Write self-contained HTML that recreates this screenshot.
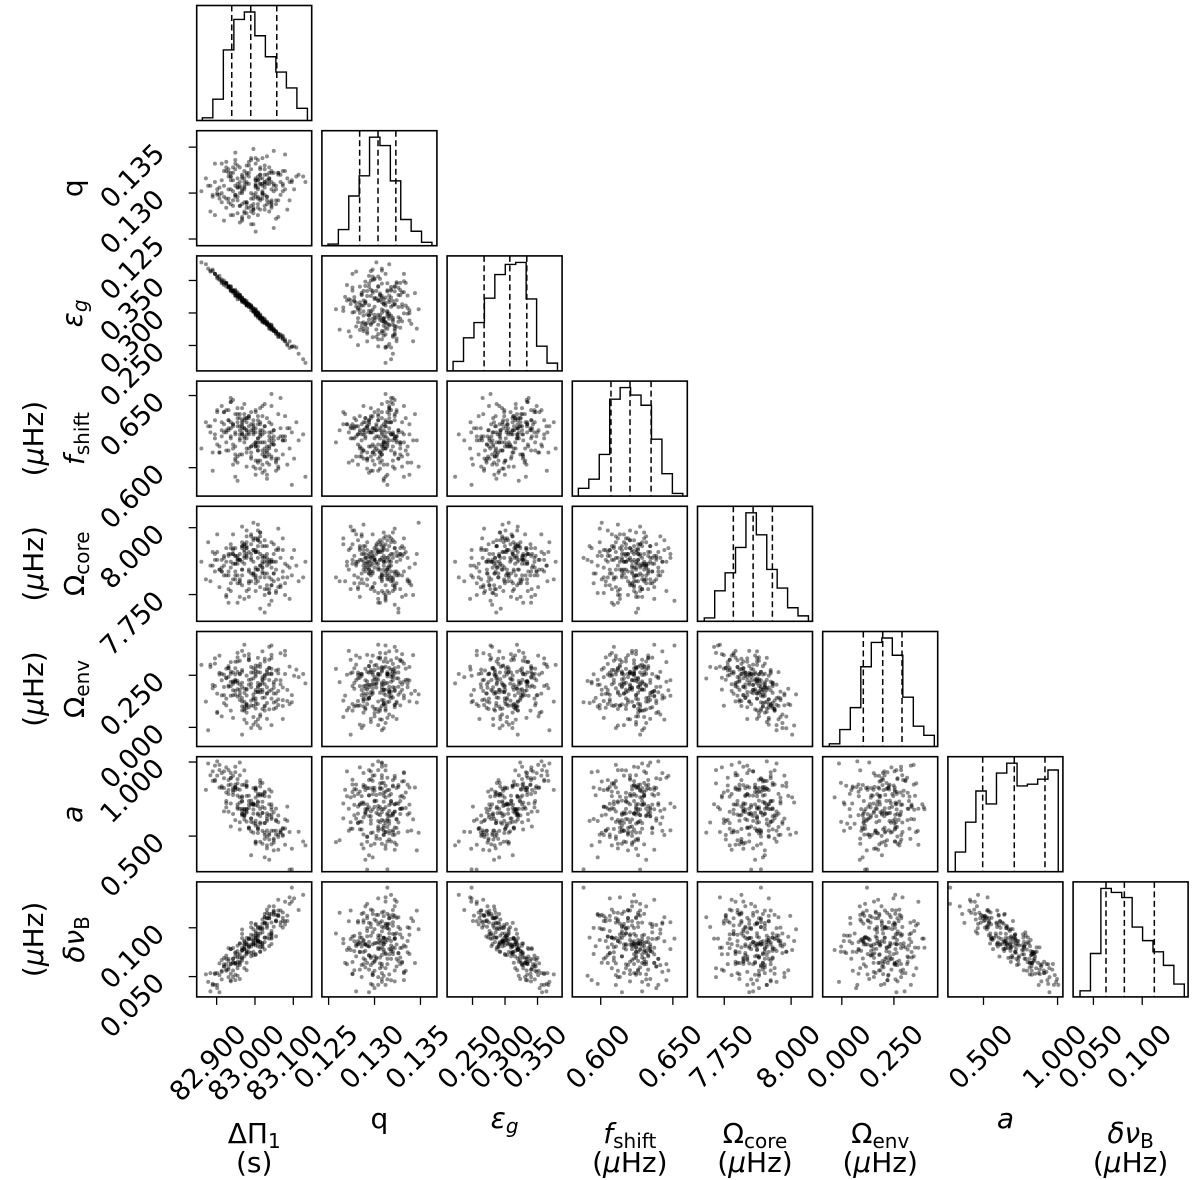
<!DOCTYPE html>
<html><head><meta charset="utf-8"><title>Corner plot</title>
<style>
html,body{margin:0;padding:0;background:#fff;}
svg{display:block;font-family:"DejaVu Sans","Liberation Sans",sans-serif;}
.lbl{font-size:28px;fill:#000;}
.tk{font-size:27px;fill:#000;}
</style></head>
<body>
<svg id="fig" width="1200" height="1180" viewBox="0 0 1200 1180" xmlns="http://www.w3.org/2000/svg">
<rect width="1200" height="1180" fill="#fff"/>
<g id="panels"></g>
<g id="ticklabels"></g>
<g>
<text class="lbl" x="254.2" y="1143" text-anchor="middle">ΔΠ<tspan font-size="20" dy="5">1</tspan></text>
<text class="lbl" x="254.2" y="1172" text-anchor="middle">(s)</text>
<text class="lbl" x="379.4" y="1128" text-anchor="middle">q</text>
<text class="lbl" x="504.6" y="1128" text-anchor="middle"><tspan font-style="italic">ε</tspan><tspan font-size="20" dy="5" font-style="italic">g</tspan></text>
<text class="lbl" x="629.8" y="1143" text-anchor="middle"><tspan font-style="italic">f</tspan><tspan font-size="20" dy="5">shift</tspan></text>
<text class="lbl" x="629.8" y="1172" text-anchor="middle">(<tspan font-style="italic">μ</tspan>Hz)</text>
<text class="lbl" x="755" y="1143" text-anchor="middle">Ω<tspan font-size="20" dy="5">core</tspan></text>
<text class="lbl" x="755" y="1172" text-anchor="middle">(<tspan font-style="italic">μ</tspan>Hz)</text>
<text class="lbl" x="880.2" y="1143" text-anchor="middle">Ω<tspan font-size="20" dy="5">env</tspan></text>
<text class="lbl" x="880.2" y="1172" text-anchor="middle">(<tspan font-style="italic">μ</tspan>Hz)</text>
<text class="lbl" x="1005.4" y="1128" text-anchor="middle" font-style="italic">a</text>
<text class="lbl" x="1130.6" y="1143" text-anchor="middle"><tspan font-style="italic">δν</tspan><tspan font-size="20" dy="5">B</tspan></text>
<text class="lbl" x="1130.6" y="1172" text-anchor="middle">(<tspan font-style="italic">μ</tspan>Hz)</text>
</g>
<g>
<g transform="translate(82,188.2) rotate(-90)"><text class="lbl" text-anchor="middle">q</text></g>
<g transform="translate(82,313.4) rotate(-90)"><text class="lbl" text-anchor="middle"><tspan font-style="italic">ε</tspan><tspan font-size="20" dy="5" font-style="italic">g</tspan></text></g>
<g transform="translate(84,438.6) rotate(-90)"><text class="lbl" text-anchor="middle"><tspan font-style="italic">f</tspan><tspan font-size="20" dy="5">shift</tspan></text></g>
<g transform="translate(43,438.6) rotate(-90)"><text class="lbl" text-anchor="middle">(<tspan font-style="italic">μ</tspan>Hz)</text></g>
<g transform="translate(84,563.8) rotate(-90)"><text class="lbl" text-anchor="middle">Ω<tspan font-size="20" dy="5">core</tspan></text></g>
<g transform="translate(43,563.8) rotate(-90)"><text class="lbl" text-anchor="middle">(<tspan font-style="italic">μ</tspan>Hz)</text></g>
<g transform="translate(84,689) rotate(-90)"><text class="lbl" text-anchor="middle">Ω<tspan font-size="20" dy="5">env</tspan></text></g>
<g transform="translate(43,689) rotate(-90)"><text class="lbl" text-anchor="middle">(<tspan font-style="italic">μ</tspan>Hz)</text></g>
<g transform="translate(82,814.2) rotate(-90)"><text class="lbl" text-anchor="middle" font-style="italic">a</text></g>
<g transform="translate(84,939.4) rotate(-90)"><text class="lbl" text-anchor="middle"><tspan font-style="italic">δν</tspan><tspan font-size="20" dy="5">B</tspan></text></g>
<g transform="translate(43,939.4) rotate(-90)"><text class="lbl" text-anchor="middle">(<tspan font-style="italic">μ</tspan>Hz)</text></g>
</g>
</svg>
<script>
const paramNames = ['dpi1','q','eps-g','f-shift','omega-core','omega-env','a','delta-nu-b'];
const rangeLo = [82.848,0.12427,0.2109,0.5803,7.650,-0.0917,0.2598,0.0292];
const rangeHi = [83.148,0.13679,0.3878,0.6600,8.080,0.460,1.036,0.147];
const histLo = [82.8627,0.12493,0.2201,0.5845,7.6754,-0.0600,0.3097,0.0363];
const histHi = [83.1368,0.13625,0.3807,0.6569,8.0647,0.4438,1.0047,0.1431];
const histDP = [8,63,208,298,320,250,188,143,96,36];
const histQ = [5,48,148,208,323,298,193,78,43,10];
const histEps = [28,98,143,215,285,315,321,213,73,23];
const histF = [23,50,123,286,320,298,268,168,66,8];
const histOc = [10,90,143,218,320,255,153,98,40,16];
const histOe = [8,50,115,236,308,321,270,146,60,33];
const histA = [58,146,238,200,291,320,253,258,273,300];
const histDnu = [18,128,320,308,293,206,166,133,93,38];
const q16 = [82.9394,0.12838,0.2678,0.6071,7.784,0.1031,0.4946,0.0629];
const q50 = [82.989,0.13038,0.3074,0.6203,7.858,0.1962,0.7078,0.0817];
const q84 = [83.0569,0.13232,0.3335,0.6349,7.930,0.2888,0.915,0.1124];
const tickVals = [[82.9,83.0,83.1],[0.125,0.130,0.135],[0.25,0.30,0.35],[0.60,0.65],[7.75,8.0],[0.0,0.25],[0.5,1.0],[0.05,0.10]];
const tickText = [['82.900','83.000','83.100'],['0.125','0.130','0.135'],['0.250','0.300','0.350'],['0.600','0.650'],['7.750','8.000'],['0.000','0.250'],['0.500','1.000'],['0.050','0.100']];
const zDP = [0.3,-1.1,0.8,-0.2,1.5,-0.7,0.1,-1.6,0.6,0.9,-0.4,0.2,-0.9,1.2,-0.1,0.5,-1.3,0.0,2.1,-0.6,
-0.3,0.7,-1.8,0.4,1.0,-0.5,0.2,-0.8,1.7,-0.2,0.6,-1.0,0.3,-0.4,1.3,-1.4,0.1,0.8,-0.7,0.4,
1.1,-0.3,-0.9,0.5,-2.0,0.2,0.9,-0.6,0.0,1.4,-1.2,0.7,-0.1,0.3,-0.8,1.8,-0.5,0.6,-1.5,0.2,
-0.2,0.4,1.0,-1.1,0.8,-0.3,-0.7,1.6,0.1,-0.9,0.5,-0.4,1.2,-1.7,0.3,0.0,-0.6,0.9,-0.2,2.3,
0.6,-1.3,0.2,-0.5,1.1,-0.8,0.4,-0.1,-1.0,0.7,1.4,-0.4,0.1,-1.9,0.8,-0.3,0.5,-0.7,1.0,-0.2,
-1.2,0.3,0.9,-0.6,0.2,1.7,-0.9,0.0,-0.4,0.6,-1.5,1.2,-0.1,0.4,-0.8,0.1,1.9,-1.1,0.5,-0.3,
0.7,-0.5,-1.4,0.3,1.3,-0.2,0.8,-0.7,0.0,-1.0,1.5,0.2,-0.6,0.9,-0.3,-2.2,0.4,1.1,-0.9,0.6,
-0.1,1.0,-0.4,0.5,-1.6,0.2,0.7,-0.8,1.4,-0.2,0.3,-1.2,0.9,-0.5,0.1,1.2,-0.7,0.6,-0.1,-1.3,
0.8,-0.4,1.6,-1.0,0.2,-0.6,0.5,0.0,-1.8,1.1,-0.3,0.4,-0.9,0.7,2.0,-0.5,0.3,-1.1,0.9,-0.2,
0.1,-0.7,1.3,-0.4,0.6,-1.4,0.2,0.8,-0.3,1.0,-0.8,0.5,-0.1,-1.5,0.4,1.8,-0.6,0.1,-1.0,0.7,
-0.2,0.9,-1.2,0.3,1.2,-0.5,0.0,-0.9,0.6,-0.3,1.5,-1.7,0.4,0.2,-0.6,0.8,-1.1,0.3,1.1,-0.4,
0.5,-0.8,0.1,1.4,-1.3,0.7,-0.2,0.3,-0.5,2.4,-1.0,0.6,-0.4,0.2,-1.6,0.9,0.0,-0.7,1.0,0.4];
const zQ = [-0.5,1.2,0.3,-0.8,0.0,1.6,-1.1,0.4,-0.3,0.9,-1.5,0.2,0.7,-0.6,1.3,-0.2,0.5,-1.9,0.8,0.1,
1.0,-0.4,-1.2,0.6,0.2,-0.9,1.7,-0.1,0.4,-0.7,0.3,1.1,-1.4,0.0,0.8,-0.3,-1.0,0.5,2.0,-0.6,
0.2,-1.3,0.9,-0.2,0.6,1.4,-0.8,0.1,-0.5,1.0,-1.7,0.3,0.7,-0.4,-0.9,0.4,1.2,-1.1,0.0,0.5,
-0.7,0.8,-0.1,1.5,-1.2,0.2,-0.4,0.6,2.2,-0.8,0.3,-1.6,0.9,-0.3,0.1,1.1,-0.6,0.4,-1.0,0.7,
1.3,-0.2,0.5,-0.9,0.0,-1.4,0.8,0.3,-0.5,1.8,-0.1,0.6,-1.1,0.2,0.9,-0.7,-0.3,1.4,-2.1,0.4,
-0.4,0.7,1.0,-1.3,0.2,-0.6,0.5,1.6,-0.8,0.1,-0.2,0.9,-1.5,0.3,1.2,-0.5,0.0,-1.0,0.6,0.4,
0.8,-1.8,0.1,0.5,-0.3,1.3,-0.7,0.2,-1.2,0.7,1.9,-0.4,0.3,-0.9,0.6,-0.1,1.1,-1.6,0.0,0.4,
-1.0,0.3,0.7,-0.5,1.4,-0.2,-0.8,0.9,0.2,-1.3,0.5,1.0,-0.6,0.1,-1.9,0.8,-0.3,0.4,1.5,-0.7,
0.6,-0.1,-1.1,0.9,0.3,-0.4,1.7,-0.9,0.2,-0.6,0.0,1.2,-1.4,0.5,0.7,-0.2,-0.8,1.0,-1.0,0.3,
-0.3,1.1,0.4,-1.7,0.8,-0.5,0.1,0.6,-1.2,2.1,-0.6,0.2,0.9,-0.3,-1.1,0.5,1.3,-0.8,0.0,-0.4,
0.9,-0.7,0.2,1.6,-1.5,0.4,-0.2,0.7,-0.9,0.1,1.0,-0.4,0.3,-2.3,0.6,1.2,-0.5,0.0,-0.8,0.8,
-0.1,0.5,-1.3,0.3,1.4,-0.6,0.8,-1.0,0.2,0.4,-0.7,1.1,-0.2,0.6,-1.4,0.0,1.7,-0.3,0.9,-0.5];
const zF = [0.7,-0.2,-1.3,0.4,1.1,-0.8,0.2,0.9,-1.6,0.0,0.5,-0.4,1.8,-1.0,0.3,-0.6,0.8,1.3,-0.1,-1.2,
0.1,-0.9,0.6,1.5,-0.3,0.2,-1.8,0.7,-0.5,1.0,-0.2,0.4,-1.1,0.9,2.0,-0.7,0.3,-0.4,1.2,-1.5,
-0.6,0.5,0.0,-1.3,0.8,-0.2,1.6,-0.9,0.4,-0.1,0.7,-2.0,0.2,1.1,-0.5,0.3,-0.8,0.6,1.4,-0.3,
1.0,-1.1,0.4,-0.6,0.1,1.7,-0.4,0.5,-1.4,0.8,-0.2,0.3,1.2,-0.7,0.0,-1.0,0.6,2.2,-0.5,0.2,
-0.9,0.4,1.3,-0.1,-1.6,0.7,0.3,-0.5,0.9,-1.2,0.1,1.5,-0.3,0.6,-0.8,0.0,1.1,-1.9,0.4,0.8,
0.3,-0.6,-0.2,1.0,-1.1,0.5,1.8,-0.4,0.2,-0.7,1.3,-1.5,0.6,0.1,-0.3,0.9,-1.0,0.4,1.6,-0.2,
-0.4,1.2,-0.7,0.0,0.5,-1.4,0.8,0.2,-0.9,1.4,-0.1,0.3,-2.1,0.7,1.0,-0.5,0.4,-1.2,0.1,0.6,
1.1,-0.3,0.8,-1.7,0.2,0.5,-0.6,1.9,-0.8,0.0,-0.2,1.3,-1.0,0.4,0.7,-1.4,0.3,-0.5,1.0,0.1,
-0.1,0.6,-1.3,0.9,-0.4,1.5,0.2,-0.7,0.3,-1.1,1.2,-0.2,0.5,-1.8,0.8,0.0,-0.6,1.4,-0.9,0.4,
0.5,-1.0,0.1,0.7,1.7,-0.4,-1.5,0.3,0.9,-0.1,0.6,-0.8,1.1,-0.3,0.2,-2.3,0.8,0.4,-0.6,1.0,
-0.7,0.3,1.3,-1.2,0.0,0.6,-0.4,2.0,-0.9,0.5,0.1,-1.6,0.7,-0.2,1.2,-0.5,0.3,0.9,-1.0,0.2,
0.4,-1.3,0.6,-0.1,1.6,-0.7,0.2,-0.4,1.0,-1.9,0.5,0.3,-0.8,1.4,0.0,-0.3,0.7,-1.1,0.1,0.8];
const zOc = [-0.2,0.9,-1.4,0.6,0.1,-0.7,1.3,-0.3,0.5,-1.0,2.0,-0.5,0.2,0.8,-1.6,0.4,-0.1,1.1,-0.8,0.3,
0.7,-1.2,0.0,1.5,-0.4,0.3,-0.9,0.6,-1.7,1.0,0.2,-0.5,1.8,-0.2,0.4,-1.1,0.8,-0.6,0.1,1.2,
-1.3,0.5,0.9,-0.1,-0.7,1.4,0.2,-1.9,0.6,-0.3,0.0,1.0,-0.8,0.4,1.6,-0.5,0.3,-1.2,0.7,-0.2,
0.4,-0.6,1.1,-1.5,0.2,0.8,-0.3,0.0,2.2,-0.9,0.5,-0.2,-1.1,0.7,1.3,-0.4,0.1,-1.8,0.9,-0.6,
1.0,0.3,-0.7,0.6,-1.4,0.1,1.7,-0.2,0.5,-1.0,0.8,-0.5,0.2,1.2,-2.0,0.4,-0.3,0.9,-0.8,1.5,
-0.5,1.4,0.2,-0.9,0.7,-0.1,-1.3,0.4,1.0,-0.6,0.3,1.9,-1.2,0.0,0.6,-0.4,0.8,-1.6,0.2,1.1,
0.6,-0.8,-0.2,1.3,-1.1,0.5,0.1,-0.5,1.6,-0.3,-1.5,0.7,0.3,-0.7,1.0,0.2,-2.2,0.8,-0.1,0.4,
-0.9,0.2,1.2,-0.4,0.6,-1.3,0.0,0.9,-0.6,1.8,-0.2,0.5,-1.0,0.3,1.4,-0.7,0.1,-1.5,0.7,-0.3,
0.3,1.0,-0.6,-1.2,0.8,0.4,-0.1,1.5,-0.8,0.2,-1.7,0.6,1.1,-0.4,0.0,-0.9,2.1,-0.5,0.3,0.9,
-0.4,0.5,-1.0,0.2,1.3,-0.2,0.7,-1.4,0.1,0.6,-0.7,1.0,-0.3,1.6,-1.1,0.4,-0.5,0.8,-1.9,0.2,
1.2,-0.1,0.4,-0.8,0.9,-1.6,0.3,0.6,-0.4,1.1,-0.9,0.0,1.7,-0.6,0.5,-1.2,0.2,0.7,-0.2,-1.0,
0.1,0.8,-0.5,1.4,-0.3,0.4,-1.3,1.0,-0.7,0.2,0.6,-2.4,0.9,-0.1,0.3,1.2,-0.8,0.5,-0.4,0.0];
const zN2 = [1.1,-0.6,0.3,-1.2,0.8,0.0,-0.4,1.5,-0.9,0.2,-1.7,0.6,0.4,-0.3,1.0,-1.1,0.7,-0.2,0.1,1.9,
-0.5,0.3,1.3,-0.8,-0.1,0.9,-1.4,0.5,0.2,-0.7,1.6,-0.3,0.0,-1.0,0.6,1.2,-1.8,0.4,-0.2,0.8,
0.2,-0.9,1.4,0.5,-1.3,0.1,-0.6,0.9,0.3,-2.1,0.7,-0.4,1.1,-0.1,0.4,-0.8,1.7,0.0,-1.1,0.6,
-0.3,1.0,-0.7,0.2,0.5,-1.5,1.3,-0.2,0.8,-0.5,0.1,2.0,-0.9,0.3,-1.2,0.6,-0.1,1.4,-0.6,0.4,
0.7,-1.6,0.2,1.1,-0.4,0.9,-0.8,0.0,1.5,-1.0,0.4,-0.3,0.6,-1.9,1.2,0.1,-0.5,0.8,-0.2,-1.3,
-0.8,0.5,1.8,-0.3,0.2,-1.1,0.7,0.4,-0.6,1.3,-1.4,0.0,0.9,-0.2,0.6,-0.9,1.1,-0.4,2.2,-0.7,
0.3,-1.0,0.6,1.6,-0.5,0.1,-1.3,0.8,-0.2,0.4,1.0,-1.7,0.5,-0.6,0.2,1.4,-0.1,-0.8,0.7,-1.2,
1.2,-0.3,0.0,-0.9,1.7,0.5,-0.4,0.3,-1.5,0.9,0.1,-0.7,1.3,-0.2,-1.0,0.6,0.4,-2.0,0.8,0.2,
-0.1,0.8,-1.2,0.4,-0.6,1.1,0.3,-1.6,0.7,-0.3,1.5,0.0,-0.8,0.5,1.0,-0.4,-1.1,0.2,0.9,-0.5,
0.6,-0.2,1.4,-1.3,0.1,0.7,-0.9,0.3,1.9,-0.6,-0.1,0.8,-1.4,0.5,0.2,-0.7,1.2,-0.3,0.0,-1.8,
-0.4,1.0,0.2,-0.5,1.3,-1.1,0.6,-0.2,0.4,-0.8,1.6,0.1,-1.5,0.7,-0.3,0.9,-0.6,2.1,-1.0,0.3,
0.5,-1.4,0.8,0.0,-0.7,1.1,-0.1,0.6,-1.2,0.3,0.4,-0.9,1.5,-0.4,0.2,-1.6,0.7,1.0,-0.3,0.1];
const zN3 = [-0.8,0.4,1.0,-0.3,-1.2,0.7,0.1,-0.5,1.6,-0.9,0.3,0.8,-1.5,0.2,-0.1,1.3,-0.6,0.5,-1.1,0.0,
0.6,1.8,-0.7,0.2,-0.4,1.1,-1.3,0.3,0.9,-0.2,-1.7,0.5,0.1,1.4,-0.6,0.0,-0.9,1.2,-0.3,0.7,
-0.1,0.9,-1.6,0.4,1.3,-0.5,0.2,-1.0,2.0,-0.4,0.6,-0.8,0.1,1.0,-1.4,0.3,-0.2,0.8,-0.7,1.5,
0.4,-1.1,0.7,-0.2,-1.8,0.9,0.3,-0.6,1.2,0.0,-1.0,0.5,1.7,-0.3,0.2,-0.8,1.1,-1.3,0.6,-0.1,
-0.6,0.2,1.4,-0.9,0.5,0.0,-1.5,0.8,-0.3,1.0,-0.7,2.2,-0.2,0.4,-1.1,0.6,0.1,-1.9,0.9,-0.4,
1.2,-0.3,-0.8,0.6,-1.4,0.3,0.0,1.6,-0.5,0.8,-1.0,0.2,0.7,-0.6,1.3,-1.2,0.4,-0.1,0.9,-1.6,
0.3,-0.7,1.1,-0.2,0.5,-1.3,1.9,-0.4,0.0,0.7,-0.9,0.4,-1.7,1.0,0.2,-0.5,0.8,-0.1,1.4,-1.0,
-0.5,1.0,0.2,-1.2,0.6,-0.3,1.5,-0.8,0.1,-2.0,0.9,0.4,-0.6,1.1,-0.1,0.3,-1.4,0.7,0.0,1.2,
0.8,-0.4,-1.1,1.7,0.2,-0.7,0.5,-0.2,1.0,-1.5,0.3,0.6,-0.9,0.1,2.1,-0.6,-0.3,0.9,-1.2,0.4,
-0.2,0.6,-0.9,0.3,1.3,-1.6,0.0,0.8,-0.5,1.1,-0.1,-1.3,0.7,0.4,-0.8,1.6,-0.4,0.2,-1.0,0.5,
1.0,-1.8,0.4,-0.3,0.7,0.1,-1.1,1.4,-0.6,0.2,0.9,-0.2,-1.5,0.6,0.3,-0.7,1.2,-0.4,0.0,1.8,
-0.9,0.3,0.6,-1.3,0.1,1.0,-0.5,0.4,-2.2,0.8,-0.1,1.3,-0.7,0.2,0.5,-1.0,0.9,-0.3,1.5,-0.6];
const zN4 = [0.5,-1.0,0.2,0.9,-0.6,1.4,-0.3,0.0,-1.3,0.7,0.4,-1.8,1.1,-0.2,0.6,-0.7,1.7,-0.4,0.3,-1.1,
-0.9,0.1,1.2,-0.5,0.8,-1.5,0.4,-0.1,1.9,-0.8,0.2,0.6,-1.2,0.3,-0.4,1.0,-0.7,2.1,0.0,-1.4,
0.7,-0.2,-1.1,1.3,-0.6,0.5,0.9,-0.3,-1.7,0.2,1.5,-0.9,0.4,-0.5,1.1,0.0,-1.3,0.6,0.3,-0.8,
-0.4,1.6,-0.1,-1.0,0.7,0.3,-2.0,0.9,-0.6,1.2,0.1,-0.3,0.5,-1.2,1.8,-0.7,0.4,0.0,-0.9,1.0,
0.2,-0.5,0.8,-1.6,1.3,-0.2,0.6,-1.0,0.1,0.4,-0.8,1.5,-1.4,0.7,0.3,-0.3,2.0,-0.6,0.0,0.9,
-1.1,0.6,-0.4,1.1,0.2,-1.9,0.8,-0.2,0.5,-0.7,1.4,0.0,-1.2,0.9,-0.5,0.3,-1.5,1.2,-0.1,0.6,
1.0,-0.3,0.4,-1.4,0.7,0.2,-0.8,1.6,-1.0,0.1,0.5,-0.6,2.3,-0.4,-1.1,0.8,0.3,-0.2,-1.6,1.1,
-0.6,0.9,-1.2,0.4,0.0,1.3,-0.5,0.2,0.7,-1.8,1.0,-0.1,0.6,-0.9,0.3,1.7,-1.3,0.5,-0.3,0.8,
0.1,-0.7,1.5,-0.2,-1.0,0.4,0.9,-1.5,0.6,0.0,-0.4,1.2,-0.8,0.3,-2.1,1.0,0.5,-0.6,1.4,-0.1,
-0.3,1.1,-0.9,0.5,0.2,-1.3,1.8,-0.4,0.7,-0.6,0.0,1.3,-1.1,0.4,0.8,-0.2,-1.7,0.6,0.1,1.0,
0.4,-1.2,0.7,-0.5,1.6,0.0,-0.8,0.3,1.2,-1.0,0.5,-0.3,0.9,-1.9,0.2,1.4,-0.6,0.1,-0.4,0.8,
-0.7,0.3,1.0,-1.4,0.6,-0.1,0.8,-0.9,0.2,1.9,-0.5,0.4,-1.1,0.7,0.0,-1.6,1.2,-0.2,0.5,-0.8];

const NS = 'http://www.w3.org/2000/svg';
const L0 = 196.7, T0 = 5.5, PITCH = 125.2, SZ = 115;
const hists = [histDP,histQ,histEps,histF,histOc,histOe,histA,histDnu];
const N = zDP.length;
const samples = [[],[],[],[],[],[],[],[]];
for (let k = 0; k < N; k++) {
  samples[0].push(82.99 + 0.059*zDP[k]);
  samples[1].push(0.1304 + 0.002*zQ[k]);
  samples[2].push(0.3074 - 0.033*(zDP[k] + 0.08*zN4[k]));
  samples[3].push(0.6203 + 0.014*zF[k]);
  samples[4].push(7.858 + 0.073*zOc[k]);
  samples[5].push(0.196 + 0.093*(-0.5*zOc[k] + 0.87*zN2[k]));
  samples[6].push(0.70 + 0.19*(-0.75*zDP[k] - 0.5*zN3[k] + 0.43*zN4[k]));
  samples[7].push(0.083 + 0.025*(0.9*zDP[k] + 0.44*zN3[k]));
}
function xs(p, v, col) { return L0 + PITCH*col + (v - rangeLo[p])/(rangeHi[p]-rangeLo[p])*SZ; }
function ys(p, v, row) { return T0 + PITCH*row + SZ - (v - rangeLo[p])/(rangeHi[p]-rangeLo[p])*SZ; }
function mk(tag, attrs, parent) {
  const e = document.createElementNS(NS, tag);
  for (const k in attrs) e.setAttribute(k, attrs[k]);
  parent.appendChild(e);
  return e;
}
const panels = document.getElementById('panels');
const tl = document.getElementById('ticklabels');

for (let r = 0; r < 8; r++) {
  for (let c = 0; c <= r; c++) {
    const px = L0 + PITCH*c, py = T0 + PITCH*r;
    const g = mk('g', {}, panels);
    
    
    if (r === c) {
      const h = hists[c];
      const hmax = Math.max(...h) * 1.06;
      const nb = h.length;
      const bw = (histHi[c]-histLo[c])/nb;
      const base = py + SZ;
      let d = 'M' + xs(c, histLo[c], c).toFixed(2) + ',' + base;
      for (let b = 0; b < nb; b++) {
        const x0 = xs(c, histLo[c] + b*bw, c), x1 = xs(c, histLo[c] + (b+1)*bw, c);
        const y = base - h[b]/hmax*SZ;
        d += ' L' + x0.toFixed(2) + ',' + y.toFixed(2) + ' L' + x1.toFixed(2) + ',' + y.toFixed(2);
      }
      d += ' L' + xs(c, histHi[c], c).toFixed(2) + ',' + base;
      const step = mk('path', {d: d, fill: 'none', stroke: '#000', 'stroke-width': 1.4}, g);
      
      
      [q16[c], q50[c], q84[c]].forEach(function (qv, qi) {
        const x = xs(c, qv, c);
        const ln = mk('line', {x1: x, x2: x, y1: py, y2: py + SZ, stroke: '#000', 'stroke-width': 1.5, 'stroke-dasharray': '6,3.5'}, g);
        
        
      });
    } else {
      const xsA = samples[c], ysA = samples[r];
      for (let k = 0; k < N; k++) {
        const x = xs(c, xsA[k], c), y = ys(r, ysA[k], r);
        if (x < px + 1.5 || x > px + SZ - 1.5 || y < py + 1.5 || y > py + SZ - 1.5) continue;
        const pt = mk('circle', {cx: x.toFixed(2), cy: y.toFixed(2), r: 2.0, fill: '#000', 'fill-opacity': 0.45}, g);
        
        
      }
    }
    const frame = mk('rect', {x: px, y: py, width: SZ, height: SZ, fill: 'none', stroke: '#000', 'stroke-width': 1.6}, g);
    
    
  }
}
for (let c = 0; c < 8; c++) {
  tickVals[c].forEach(function (v, i) {
    const x = xs(c, v, c), y0 = T0 + PITCH*7 + SZ;
    const t = mk('line', {x1: x, x2: x, y1: y0, y2: y0 + 8, stroke: '#000', 'stroke-width': 1.3}, tl);
    
    
    const ax = x + 31, ay = 1036;
    const tx = mk('text', {x: ax.toFixed(2), y: ay, 'text-anchor': 'end', class: 'tk', transform: 'rotate(-45 ' + ax.toFixed(2) + ' ' + ay + ')'}, tl);
    tx.textContent = tickText[c][i];
    
    
  });
}
for (let r = 1; r < 8; r++) {
  tickVals[r].forEach(function (v, i) {
    const y = ys(r, v, r);
    const t = mk('line', {x1: L0 - 8, x2: L0, y1: y, y2: y, stroke: '#000', 'stroke-width': 1.3}, tl);
    
    
    const ax = 166, ay = y + 8;
    const tx = mk('text', {x: ax, y: ay.toFixed(2), 'text-anchor': 'end', class: 'tk', transform: 'rotate(-45 ' + ax + ' ' + ay.toFixed(2) + ')'}, tl);
    tx.textContent = tickText[r][i];
    
    
  });
}
</script>
</body></html>
